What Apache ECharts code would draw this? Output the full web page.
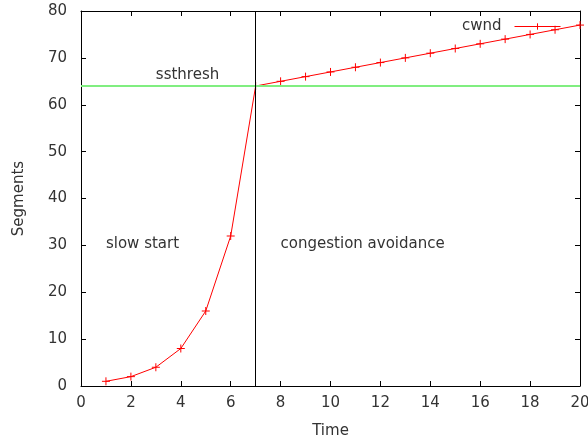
<!DOCTYPE html>
<html lang="en">
<head>
    <meta charset="UTF-8">
    <title>cwnd</title>
    <script src="https://cdn.jsdelivr.net/npm/echarts@6/dist/echarts.min.js"></script>
    <style>
        html, body { margin: 0; padding: 0; background: #fff; }
    </style>
</head>
<body>
<div id="myChart" style="width: 588px;height:440px;"></div>
<script type="text/javascript">
    // 数据
    var times = [1, 2, 3, 4, 5, 6, 7, 8, 9, 10, 11, 12, 13, 14, 15, 16, 17, 18, 19, 20];
    var cwnd = [1, 2, 4, 8, 16, 32, 64, 65, 66, 67, 68, 69, 70, 71, 72, 73, 74, 75, 76, 77];
    var ssthresh = 64;
    var lossTime = 7;
    var notes = [
        {text: 'ssthresh', x: 3, y: 66.3},
        {text: 'slow start', x: 1, y: 30.3},
        {text: 'congestion avoidance', x: 8, y: 30.3}
    ];

    var font = 'DejaVu Sans';
    var textColor = '#333';
    var fs = 15;
    var plus = 'path://M0,5L10,5M5,0L5,10';

    var points = times.map(function (t, i) { return [t, cwnd[i]]; });

    function axisBase(extra) {
        var a = {
            type: 'value',
            axisLine: {show: true, onZero: false, lineStyle: {color: '#000', width: 1}},
            axisTick: {show: true, inside: true, length: 5, lineStyle: {color: '#000'}},
            splitLine: {show: false},
            axisLabel: {color: textColor, fontFamily: font, fontSize: fs}
        };
        for (var k in extra) a[k] = extra[k];
        return a;
    }

    var myChart = echarts.init(document.getElementById('myChart'));
    var option = {
        animation: false,
        grid: {left: 81, right: 8, top: 11, bottom: 54, containLabel: false, outerBoundsMode: 'none'},
        legend: {
            right: 22, top: 14,
            itemWidth: 46, itemHeight: 8,
            align: 'right',
            lineStyle: {width: 1},
            itemStyle: {borderWidth: 1},
            textStyle: {color: textColor, fontFamily: font, fontSize: fs, padding: [0, 8, 0, 0]},
            data: ['cwnd']
        },
        xAxis: [
            axisBase({min: 0, max: 20, interval: 2, position: 'bottom',
                name: 'Time', nameLocation: 'middle', nameGap: 38,
                nameTextStyle: {color: textColor, fontFamily: font, fontSize: fs},
                axisLabel: {color: textColor, fontFamily: font, fontSize: fs, margin: 10}}),
            axisBase({min: 0, max: 20, interval: 2, position: 'top', axisLabel: {show: false}})
        ],
        yAxis: [
            axisBase({min: 0, max: 80, interval: 10, position: 'left',
                name: 'Segments', nameLocation: 'middle', nameGap: 54,
                nameTextStyle: {color: textColor, fontFamily: font, fontSize: fs},
                axisLabel: {color: textColor, fontFamily: font, fontSize: fs, margin: 14}}),
            axisBase({min: 0, max: 80, interval: 10, position: 'right', axisLabel: {show: false}})
        ],
        series: [{
            name: 'cwnd',
            type: 'line',
            data: points,
            symbol: plus,
            symbolSize: 8,
            showSymbol: true,
            lineStyle: {color: '#ff0000', width: 1},
            itemStyle: {color: 'rgba(0,0,0,0)', borderColor: '#ff0000', borderWidth: 1},
            z: 3,
            markLine: {
                silent: true,
                symbol: 'none',
                label: {show: false},
                data: [
                    {yAxis: ssthresh, lineStyle: {color: '#80ee80', width: 2, type: 'solid'}},
                    {xAxis: lossTime, lineStyle: {color: '#000', width: 1, type: 'solid'}}
                ]
            }
        }]
    };
    myChart.setOption(option);

    // 注释文字
    myChart.setOption({
        graphic: notes.map(function (n) {
            var p = myChart.convertToPixel({gridIndex: 0}, [n.x, n.y]);
            return {
                type: 'text', x: p[0], y: p[1],
                style: {text: n.text, fill: textColor, font: fs + 'px "' + font + '"', verticalAlign: 'middle'}
            };
        })
    });
</script>
</body>
</html>
